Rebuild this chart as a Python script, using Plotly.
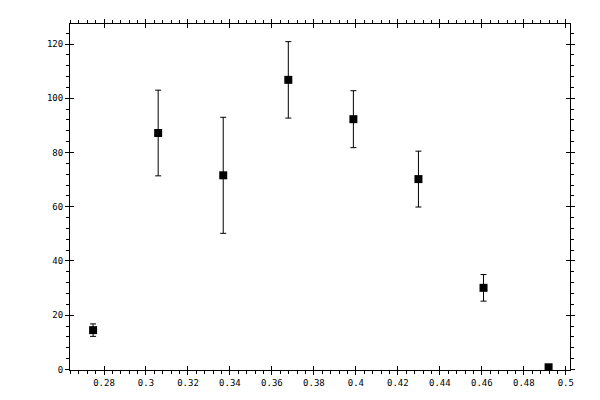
import plotly.graph_objects as go

# measured points
x_vals = [0.2748, 0.3058, 0.3368, 0.3678, 0.3988, 0.4298, 0.4608, 0.4918]
y_vals = [14.5, 87.2, 71.6, 106.8, 92.3, 70.2, 30.1, 0.8]
y_err = [2.3, 15.8, 21.4, 14.1, 10.5, 10.3, 4.9, 0]

x_range = [0.2638, 0.502]
y_range = [-0.2, 127.4]

fig = go.Figure()

fig.add_trace(go.Scatter(
    x=x_vals, y=y_vals,
    mode='markers',
    marker=dict(symbol='square', size=8, color='black'),
    error_y=dict(type='data', array=y_err, visible=True,
                 color='black', thickness=1, width=3),
    showlegend=False,
))

# dummy trace so the overlay axes (inside half of the major ticks) get drawn
fig.add_trace(go.Scatter(x=[None], y=[None], xaxis='x2', yaxis='y2',
                         showlegend=False, hoverinfo='skip'))

axis_font = dict(family='DejaVu Sans Mono', size=9, color='black')

# page body has an 8px margin, so shift the plot area back by that much
fig.update_layout(
    width=600, height=400,
    margin=dict(l=62, r=38, t=11, b=38),
    plot_bgcolor='white',
    paper_bgcolor='white',
    font=axis_font,
    xaxis=dict(
        range=x_range, dtick=0.02, tick0=0.28,
        ticks='outside', ticklen=4, tickwidth=1, tickcolor='black',
        minor=dict(dtick=0.004, ticks='outside', ticklen=3, tickwidth=1, tickcolor='black'),
        showline=True, linecolor='black', linewidth=1, mirror='allticks',
        showgrid=False, zeroline=False, tickfont=axis_font,
    ),
    yaxis=dict(
        range=y_range, dtick=20, tick0=0,
        ticks='outside', ticklen=4, tickwidth=1, tickcolor='black',
        minor=dict(dtick=4, ticks='outside', ticklen=3, tickwidth=1, tickcolor='black'),
        showline=True, linecolor='black', linewidth=1, mirror='allticks',
        showgrid=False, zeroline=False, tickfont=axis_font,
    ),
    xaxis2=dict(
        overlaying='x', range=x_range, dtick=0.02, tick0=0.28,
        ticks='inside', ticklen=4, tickwidth=1, tickcolor='black',
        mirror='allticks', showticklabels=False, showline=False,
        showgrid=False, zeroline=False,
    ),
    yaxis2=dict(
        overlaying='y', range=y_range, dtick=20, tick0=0,
        ticks='inside', ticklen=4, tickwidth=1, tickcolor='black',
        mirror='allticks', showticklabels=False, showline=False,
        showgrid=False, zeroline=False,
    ),
)

fig.write_html("out.html")
